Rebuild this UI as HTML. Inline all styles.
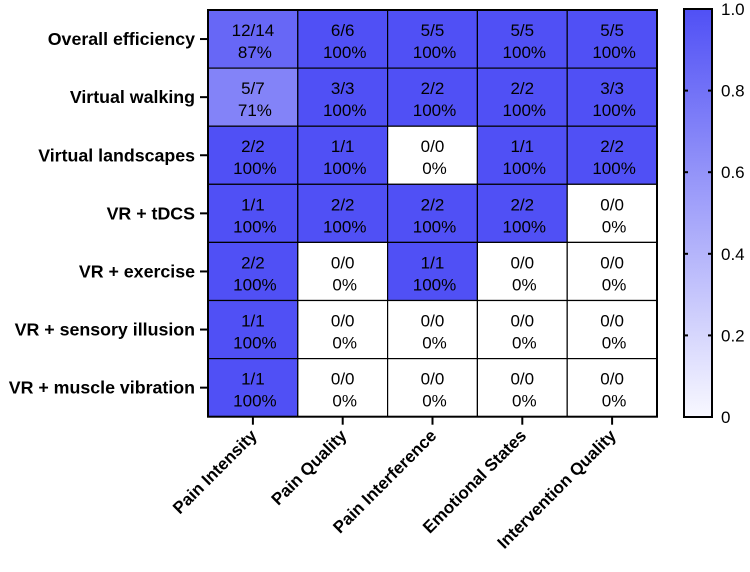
<!DOCTYPE html>
<html><head><meta charset="utf-8"><style>
body{margin:0;background:#fff;width:750px;height:567px;overflow:hidden}
text{font-family:"Liberation Sans",sans-serif}
</style></head><body>
<svg id="chart" width="750" height="567"></svg>
<script>
const rows=["Overall efficiency","Virtual walking","Virtual landscapes","VR + tDCS","VR + exercise","VR + sensory illusion","VR + muscle vibration"];
const cols=["Pain Intensity","Pain Quality","Pain Interference","Emotional States","Intervention Quality"];
const num=[[12,6,5,5,5],[5,3,2,2,3],[2,1,0,1,2],[1,2,2,2,0],[2,0,1,0,0],[1,0,0,0,0],[1,0,0,0,0]];
const den=[[14,6,5,5,5],[7,3,2,2,3],[2,1,0,1,2],[1,2,2,2,0],[2,0,1,0,0],[1,0,0,0,0],[1,0,0,0,0]];
const pct=[[87,100,100,100,100],[71,100,100,100,100],[100,100,0,100,100],[100,100,100,100,0],[100,0,100,0,0],[100,0,0,0,0],[100,0,0,0,0]];
const cbTicks=[0,0.2,0.4,0.6,0.8,1.0];
const NS="http://www.w3.org/2000/svg";
const svg=document.getElementById('chart');
const X0=208,Y0=10,CW=89.8,RH=58.1;
const cx=i=>X0+i*CW, ry=j=>Y0+j*RH;
function col(v){const a=[255,255,255],b=[80,80,245];return `rgb(${a.map((c,k)=>Math.round(c+(b[k]-c)*v)).join(',')})`;}
function mk(t,at,p){const e=document.createElementNS(NS,t);for(const k in at)e.setAttribute(k,at[k]);(p||svg).appendChild(e);return e;}
rows.forEach((r,j)=>{cols.forEach((c,i)=>{
 const v=pct[j][i]/100;
 const rc=mk('rect',{x:cx(i),y:ry(j),width:CW,height:RH,fill:col(v),stroke:'#000','stroke-width':1.2});
 
 
 const t1=mk('text',{x:cx(i)+CW/2,y:ry(j)+26,'text-anchor':'middle','font-size':17});t1.textContent=num[j][i]+'/'+den[j][i];
 
 
 const t2=mk('text',{x:cx(i)+CW/2+2,y:ry(j)+48,'text-anchor':'middle','font-size':17});t2.textContent=pct[j][i]+'%';
 
 
});
 const yy=ry(j)+RH/2;
 mk('line',{x1:X0-8,x2:X0,y1:yy,y2:yy,stroke:'#000','stroke-width':2});
 const t=mk('text',{x:X0-13,y:yy+6,'text-anchor':'end','font-size':17.8,'font-weight':'bold'});t.textContent=r;
 
 
});
mk('rect',{x:X0,y:Y0,width:CW*5,height:RH*7,fill:'none',stroke:'#000','stroke-width':2});
cols.forEach((c,i)=>{const xx=cx(i)+CW/2;
 mk('line',{x1:xx,x2:xx,y1:ry(7),y2:ry(7)+8,stroke:'#000','stroke-width':2});
 const t=mk('text',{x:xx+5,y:ry(7)+20,'text-anchor':'end','font-size':17,'font-weight':'bold',transform:`rotate(-45 ${xx+5} ${ry(7)+20})`});t.textContent=c;
 
 
});
const defs=mk('defs',{});const g=mk('linearGradient',{id:'gr',x1:0,y1:1,x2:0,y2:0},defs);
mk('stop',{offset:0,'stop-color':col(0.04)},g);mk('stop',{offset:1,'stop-color':col(1)},g);
const CB0=9,CB1=417,CBX=684,CBW=28;
const cb=mk('rect',{x:CBX,y:CB0,width:CBW,height:CB1-CB0,fill:'url(#gr)',stroke:'#000','stroke-width':2});


const cy=v=>CB1-v*(CB1-CB0);
cbTicks.forEach(v=>{const y=cy(v);
 mk('line',{x1:CBX,x2:CBX+4,y1:y,y2:y,stroke:'#000','stroke-width':2});
 mk('line',{x1:CBX+CBW-4,x2:CBX+CBW,y1:y,y2:y,stroke:'#000','stroke-width':2});
 const t=mk('text',{x:CBX+CBW+9,y:y+6,'font-size':17});t.textContent=v===0?'0':v.toFixed(1);
 
 
});
</script></body></html>
